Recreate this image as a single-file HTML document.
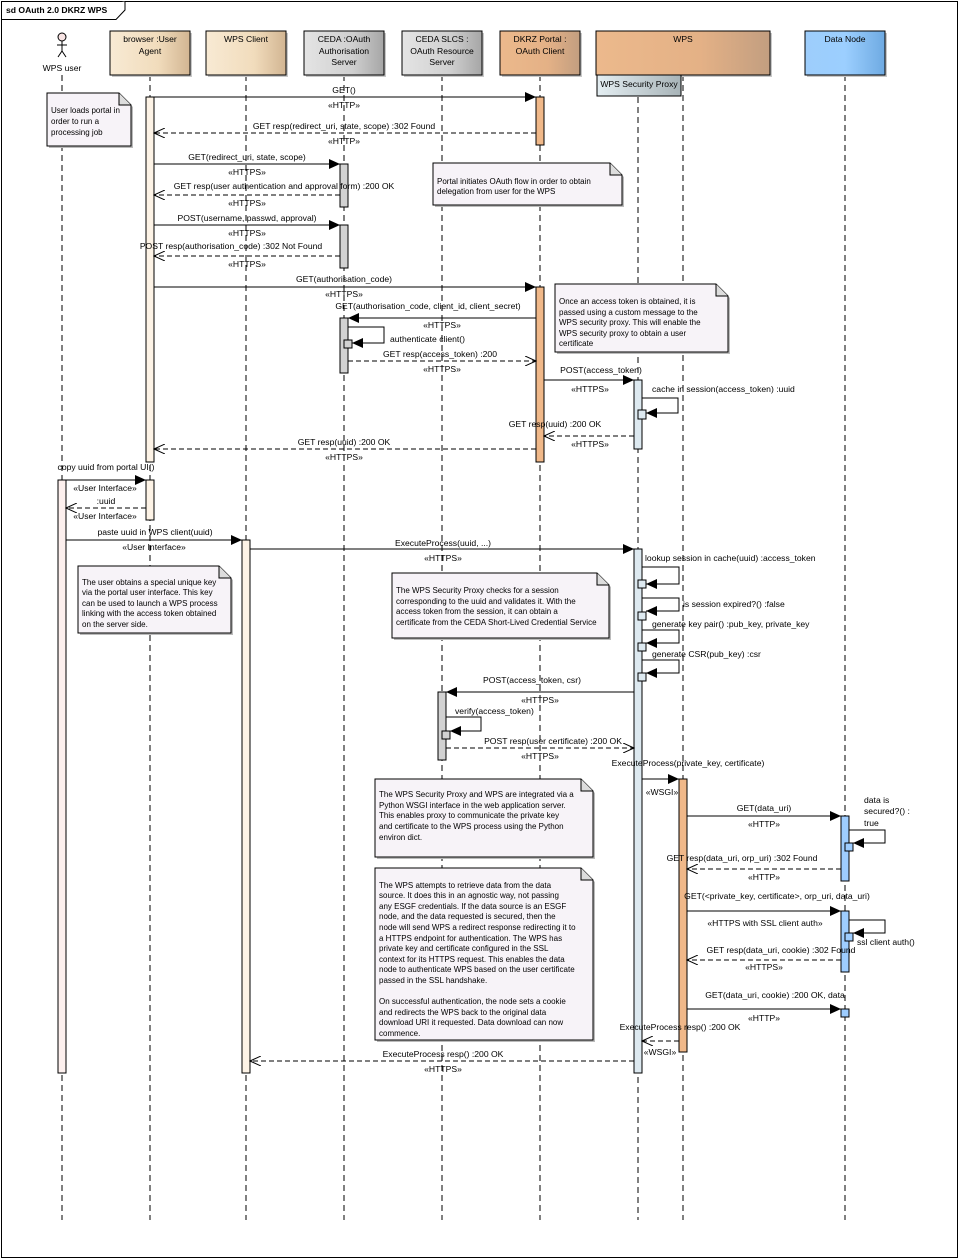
<!DOCTYPE html>
<html><head><meta charset="utf-8"><style>
html,body{margin:0;padding:0;background:#fff}
svg{display:block}
text{font-family:"Liberation Sans",Arial,sans-serif;font-size:8.6px;fill:#000}
.m{text-anchor:middle}
.ll{stroke:#000;stroke-width:1;stroke-dasharray:6,4;fill:none}
.s{stroke:#000;stroke-width:1;fill:none}
.d{stroke:#000;stroke-width:1;fill:none;stroke-dasharray:5,3}
.nt{font-size:8px}
</style></head><body>
<svg width="960" height="1260" viewBox="0 0 960 1260" xmlns="http://www.w3.org/2000/svg">
<defs>
<marker id="f" markerWidth="12" markerHeight="10" refX="11" refY="5" orient="auto" markerUnits="userSpaceOnUse"><path d="M0,0 L11,5 L0,10 z" fill="#000"/></marker>
<marker id="o" markerWidth="12" markerHeight="10" refX="11" refY="5" orient="auto" markerUnits="userSpaceOnUse"><path d="M0,0 L11,5 L0,10" fill="none" stroke="#000"/></marker>
<linearGradient id="gb" x1="0" x2="1"><stop offset="0" stop-color="#f8ead4"/><stop offset="0.6" stop-color="#f1dcbc"/><stop offset="1" stop-color="#d2b592"/></linearGradient>
<linearGradient id="gg" x1="0" x2="1"><stop offset="0" stop-color="#e4e4e4"/><stop offset="0.6" stop-color="#d0d0d0"/><stop offset="1" stop-color="#a6a6a6"/></linearGradient>
<linearGradient id="go" x1="0" x2="1"><stop offset="0" stop-color="#ecb98c"/><stop offset="0.6" stop-color="#e4b186"/><stop offset="1" stop-color="#c29e80"/></linearGradient>
<linearGradient id="gd" x1="0" x2="1"><stop offset="0" stop-color="#9dcdfb"/><stop offset="0.5" stop-color="#9ccfff"/><stop offset="1" stop-color="#6eaae2"/></linearGradient>
<linearGradient id="gp" x1="0" x2="1"><stop offset="0" stop-color="#e4eef2"/><stop offset="1" stop-color="#a8b4b8"/></linearGradient>
</defs>

<!-- frame -->
<rect x="1.5" y="1.5" width="956" height="1256" fill="none" stroke="#000"/>
<path d="M1.5,19.5 H116 L125,10 V1.5" fill="#fff" stroke="#000"/>
<text x="6" y="13" style="font-weight:bold;font-size:8.6px">sd OAuth 2.0 DKRZ WPS</text>

<!-- lifelines -->
<line class="ll" x1="62" y1="75" x2="62" y2="1220"/>
<line class="ll" x1="150" y1="75" x2="150" y2="1220"/>
<line class="ll" x1="246" y1="75" x2="246" y2="1220"/>
<line class="ll" x1="344" y1="75" x2="344" y2="1220"/>
<line class="ll" x1="442" y1="75" x2="442" y2="1220"/>
<line class="ll" x1="540" y1="75" x2="540" y2="1220"/>
<line class="ll" x1="638" y1="97" x2="638" y2="1220"/>
<line class="ll" x1="683" y1="75" x2="683" y2="1220"/>
<line class="ll" x1="845" y1="75" x2="845" y2="1220"/>

<!-- actor -->
<circle cx="62" cy="37" r="4" fill="#f8e4e4" stroke="#000"/>
<path class="s" d="M62,41 V51 M57,45 H67 M62,51 L58,57 M62,51 L66,57"/>
<text class="m" x="62" y="71">WPS user</text>

<!-- headers -->
<g stroke="#000">
<rect x="112" y="33" width="80" height="44" fill="#c8c8c8" stroke="none"/>
<rect x="110" y="31" width="80" height="44" fill="url(#gb)"/>
<rect x="208" y="33" width="80" height="44" fill="#c8c8c8" stroke="none"/>
<rect x="206" y="31" width="80" height="44" fill="url(#gb)"/>
<rect x="306" y="33" width="80" height="44" fill="#c8c8c8" stroke="none"/>
<rect x="304" y="31" width="80" height="44" fill="url(#gg)"/>
<rect x="404" y="33" width="80" height="44" fill="#c8c8c8" stroke="none"/>
<rect x="402" y="31" width="80" height="44" fill="url(#gg)"/>
<rect x="502" y="33" width="80" height="44" fill="#c8c8c8" stroke="none"/>
<rect x="500" y="31" width="80" height="44" fill="url(#go)"/>
<rect x="598" y="33" width="174" height="44" fill="#c8c8c8" stroke="none"/>
<rect x="596" y="31" width="174" height="44" fill="url(#go)"/>
<rect x="807" y="33" width="80" height="44" fill="#c8c8c8" stroke="none"/>
<rect x="805" y="31" width="80" height="44" fill="url(#gd)"/>
<rect x="597" y="75" width="84" height="21" fill="url(#gp)"/>
</g>
<text class="m" x="150" y="42">browser :User</text><text class="m" x="150" y="54">Agent</text>
<text class="m" x="246" y="42">WPS Client</text>
<text class="m" x="344" y="42">CEDA :OAuth</text><text class="m" x="344" y="54">Authorisation</text><text class="m" x="344" y="65">Server</text>
<text class="m" x="442" y="42">CEDA SLCS :</text><text class="m" x="442" y="54">OAuth Resource</text><text class="m" x="442" y="65">Server</text>
<text class="m" x="540" y="42">DKRZ Portal :</text><text class="m" x="540" y="54">OAuth Client</text>
<text class="m" x="683" y="42">WPS</text>
<text class="m" x="845" y="42">Data Node</text>
<text class="m" x="639" y="87">WPS Security Proxy</text>

<!-- activations -->
<g stroke="#000">
<rect x="146" y="97" width="8" height="365" fill="#fdf3e6"/>
<rect x="536" y="97" width="8" height="48" fill="#f0b889"/>
<rect x="340" y="164" width="8" height="43" fill="#d2d2d2"/>
<rect x="340" y="225" width="8" height="43" fill="#d2d2d2"/>
<rect x="536" y="287" width="8" height="175" fill="#f0b889"/>
<rect x="340" y="318" width="8" height="55" fill="#d2d2d2"/>
<rect x="344" y="340" width="8" height="8" fill="#d2d2d2"/>
<rect x="634" y="380" width="8" height="69" fill="#dde9f0"/>
<rect x="638" y="410" width="8" height="9" fill="#dde9f0"/>
<rect x="58" y="480" width="8" height="593" fill="#fdf0ee"/>
<rect x="146" y="480" width="8" height="40" fill="#fdf3e6"/>
<rect x="242" y="540" width="8" height="533" fill="#fdf3e6"/>
<rect x="634" y="549" width="8" height="524" fill="#dde9f0"/>
<rect x="638" y="580" width="8" height="8" fill="#dde9f0"/>
<rect x="638" y="612" width="8" height="8" fill="#dde9f0"/>
<rect x="638" y="643" width="8" height="8" fill="#dde9f0"/>
<rect x="638" y="673" width="8" height="8" fill="#dde9f0"/>
<rect x="438" y="692" width="8" height="68" fill="#d2d2d2"/>
<rect x="442" y="731" width="8" height="8" fill="#d2d2d2"/>
<rect x="679" y="779" width="8" height="273" fill="#f0b889"/>
<rect x="841" y="816" width="8" height="65" fill="#9ecdff"/>
<rect x="845" y="843" width="8" height="8" fill="#9ecdff"/>
<rect x="841" y="911" width="8" height="61" fill="#9ecdff"/>
<rect x="845" y="933" width="8" height="8" fill="#9ecdff"/>
<rect x="841" y="1009" width="8" height="8" fill="#9ecdff"/>
</g>

<!-- notes -->
<g stroke="#000" fill="#f7f3f8">
<path d="M49,95 H121 L133,107 V148 H49 Z" fill="#bbb" stroke="none"/>
<path d="M47,93 H119 L131,105 V146 H47 Z"/><path d="M119,93 V105 H131" fill="#ddd"/>
<path d="M435,165 H612 L624,177 V207 H435 Z" fill="#bbb" stroke="none"/>
<path d="M433,163 H610 L622,175 V205 H433 Z"/><path d="M610,163 V175 H622" fill="#ddd"/>
<path d="M557,286 H718 L730,298 V354 H557 Z" fill="#bbb" stroke="none"/>
<path d="M555,284 H716 L728,296 V352 H555 Z"/><path d="M716,284 V296 H728" fill="#ddd"/>
<path d="M80,568 H221 L233,580 V635 H80 Z" fill="#bbb" stroke="none"/>
<path d="M78,566 H219 L231,578 V633 H78 Z"/><path d="M219,566 V578 H231" fill="#ddd"/>
<path d="M394,575 H599 L611,587 V640 H394 Z" fill="#bbb" stroke="none"/>
<path d="M392,573 H597 L609,585 V638 H392 Z"/><path d="M597,573 V585 H609" fill="#ddd"/>
<path d="M377,781 H583 L595,793 V859 H377 Z" fill="#bbb" stroke="none"/>
<path d="M375,779 H581 L593,791 V857 H375 Z"/><path d="M581,779 V791 H593" fill="#ddd"/>
<path d="M377,870 H583 L595,882 V1042 H377 Z" fill="#bbb" stroke="none"/>
<path d="M375,868 H581 L593,880 V1040 H375 Z"/><path d="M581,868 V880 H593" fill="#ddd"/>
</g>
<g class="nt">
<text class="nt" x="51" y="113">User loads portal in</text><text class="nt" x="51" y="124">order to run a</text><text class="nt" x="51" y="135">processing job</text>
<text class="nt" x="437" y="184">Portal initiates OAuth flow in order to obtain</text><text class="nt" x="437" y="194">delegation from user for the WPS</text>
<text class="nt" x="559" y="304">Once an access token is obtained, it is</text><text class="nt" x="559" y="315">passed using a custom message to the</text><text class="nt" x="559" y="325">WPS security proxy.  This will enable the</text><text class="nt" x="559" y="336">WPS security proxy to obtain a user</text><text class="nt" x="559" y="346">certificate</text>
<text class="nt" x="82" y="585">The user obtains a special unique key</text><text class="nt" x="82" y="595">via the portal user interface.  This key</text><text class="nt" x="82" y="606">can be used to launch a WPS process</text><text class="nt" x="82" y="616">linking with the access token obtained</text><text class="nt" x="82" y="627">on the server side.</text>
<text class="nt" x="396" y="593">The WPS Security Proxy checks for a session</text><text class="nt" x="396" y="604">corresponding to the uuid and validates it. With the</text><text class="nt" x="396" y="614">access token from the session, it can obtain a</text><text class="nt" x="396" y="625">certificate from the CEDA Short-Lived Credential Service</text>
<text class="nt" x="379" y="797">The WPS Security Proxy and WPS are integrated via a</text><text class="nt" x="379" y="808">Python WSGI interface in the web application server.</text><text class="nt" x="379" y="818">This enables proxy to communicate the private key</text><text class="nt" x="379" y="829">and certificate to the WPS process using the Python</text><text class="nt" x="379" y="840">environ dict.</text>
<text class="nt" x="379" y="888">The WPS attempts to retrieve data from the data</text>
<text class="nt" x="379" y="898">source.  It does this in an agnostic way, not passing</text>
<text class="nt" x="379" y="909">any ESGF credentials.  If the data source is an ESGF</text>
<text class="nt" x="379" y="919">node, and the data requested is secured, then the</text>
<text class="nt" x="379" y="930">node will send WPS a redirect response redirecting it to</text>
<text class="nt" x="379" y="941">a HTTPS endpoint for authentication.  The WPS has</text>
<text class="nt" x="379" y="951">private key and certificate configured in the SSL</text>
<text class="nt" x="379" y="962">context for its HTTPS request.  This enables the data</text>
<text class="nt" x="379" y="972">node to authenticate WPS based on the user certificate</text>
<text class="nt" x="379" y="983">passed in the SSL handshake.</text>
<text class="nt" x="379" y="1004">On successful authentication, the node sets a cookie</text>
<text class="nt" x="379" y="1015">and redirects the WPS back to the original data</text>
<text class="nt" x="379" y="1025">download URI it requested.  Data download can now</text>
<text class="nt" x="379" y="1036">commence.</text>
</g>

<!-- messages -->
<line class="s" x1="154" y1="97" x2="536" y2="97" marker-end="url(#f)"/>
<text class="m" x="344" y="93">GET()</text><text class="m" x="344" y="108">«HTTP»</text>
<line class="d" x1="536" y1="133" x2="154" y2="133" marker-end="url(#o)"/>
<text class="m" x="344" y="129">GET resp(redirect_uri, state, scope) :302 Found</text><text class="m" x="344" y="144">«HTTP»</text>
<line class="s" x1="154" y1="164" x2="340" y2="164" marker-end="url(#f)"/>
<text class="m" x="247" y="160">GET(redirect_uri, state, scope)</text><text class="m" x="247" y="175">«HTTPS»</text>
<line class="d" x1="340" y1="195" x2="154" y2="195" marker-end="url(#o)"/>
<text class="m" x="284" y="189">GET resp(user authentication and approval form) :200 OK</text><text class="m" x="247" y="206">«HTTPS»</text>
<line class="s" x1="154" y1="225" x2="340" y2="225" marker-end="url(#f)"/>
<text class="m" x="247" y="221">POST(username, passwd, approval)</text><text class="m" x="247" y="236">«HTTPS»</text>
<line class="d" x1="340" y1="256" x2="154" y2="256" marker-end="url(#o)"/>
<text class="m" x="231" y="249">POST resp(authorisation_code) :302 Not Found</text><text class="m" x="247" y="267">«HTTPS»</text>
<line class="s" x1="154" y1="287" x2="536" y2="287" marker-end="url(#f)"/>
<text class="m" x="344" y="282">GET(authorisation_code)</text><text class="m" x="344" y="297">«HTTPS»</text>
<line class="s" x1="536" y1="318" x2="348" y2="318" marker-end="url(#f)"/>
<text class="m" x="428" y="309">GET(authorisation_code, client_id, client_secret)</text><text class="m" x="442" y="328">«HTTPS»</text>
<path class="s" d="M348,327 H384 V343 H352" marker-end="url(#f)"/>
<text x="390" y="342">authenticate client()</text>
<line class="d" x1="348" y1="361" x2="536" y2="361" marker-end="url(#o)"/>
<text class="m" x="440" y="357">GET resp(access_token) :200</text><text class="m" x="442" y="372">«HTTPS»</text>
<line class="s" x1="544" y1="380" x2="634" y2="380" marker-end="url(#f)"/>
<text class="m" x="601" y="373">POST(access_token)</text><text class="m" x="590" y="392">«HTTPS»</text>
<path class="s" d="M642,398 H678 V413 H646" marker-end="url(#f)"/>
<text x="652" y="392">cache in session(access_token) :uuid</text>
<line class="d" x1="634" y1="436" x2="544" y2="436" marker-end="url(#o)"/>
<text class="m" x="555" y="427">GET resp(uuid) :200 OK</text><text class="m" x="590" y="447">«HTTPS»</text>
<line class="d" x1="536" y1="449" x2="154" y2="449" marker-end="url(#o)"/>
<text class="m" x="344" y="445">GET resp(uuid) :200 OK</text><text class="m" x="344" y="460">«HTTPS»</text>
<line class="s" x1="66" y1="480" x2="146" y2="480" marker-end="url(#f)"/>
<text class="m" x="106" y="470">copy uuid from portal UI()</text><text class="m" x="105" y="491">«User Interface»</text>
<line class="d" x1="146" y1="508" x2="66" y2="508" marker-end="url(#o)"/>
<text class="m" x="106" y="504">:uuid</text><text class="m" x="105" y="519">«User Interface»</text>
<line class="s" x1="66" y1="540" x2="242" y2="540" marker-end="url(#f)"/>
<text class="m" x="155" y="535">paste uuid in WPS client(uuid)</text><text class="m" x="154" y="550">«User Interface»</text>
<line class="s" x1="250" y1="549" x2="634" y2="549" marker-end="url(#f)"/>
<text class="m" x="443" y="546">ExecuteProcess(uuid, ...)</text><text class="m" x="443" y="561">«HTTPS»</text>
<path class="s" d="M642,567 H679 V584 H646" marker-end="url(#f)"/>
<text x="645" y="561">lookup session in cache(uuid) :access_token</text>
<path class="s" d="M642,598 H679 V611 H646" marker-end="url(#f)"/>
<text x="683" y="607">is session expired?() :false</text>
<path class="s" d="M642,630 H679 V643 H646" marker-end="url(#f)"/>
<text x="652" y="627">generate key pair() :pub_key, private_key</text>
<path class="s" d="M642,660 H679 V673 H646" marker-end="url(#f)"/>
<text x="652" y="657">generate CSR(pub_key) :csr</text>
<line class="s" x1="634" y1="692" x2="446" y2="692" marker-end="url(#f)"/>
<text class="m" x="532" y="683">POST(access_token, csr)</text><text class="m" x="540" y="703">«HTTPS»</text>
<path class="s" d="M446,717 H481 V731 H450" marker-end="url(#f)"/>
<text x="455" y="714">verify(access_token)</text>
<line class="d" x1="446" y1="748" x2="634" y2="748" marker-end="url(#o)"/>
<text class="m" x="553" y="744">POST resp(user certificate) :200 OK</text><text class="m" x="540" y="759">«HTTPS»</text>
<line class="s" x1="642" y1="779" x2="679" y2="779" marker-end="url(#f)"/>
<text class="m" x="688" y="766">ExecuteProcess(private_key, certificate)</text><text class="m" x="662" y="795">«WSGI»</text>
<line class="s" x1="687" y1="816" x2="841" y2="816" marker-end="url(#f)"/>
<text class="m" x="764" y="811">GET(data_uri)</text><text class="m" x="764" y="827">«HTTP»</text>
<path class="s" d="M849,830 H885 V843 H853" marker-end="url(#f)"/>
<text x="864" y="803">data is</text><text x="864" y="814">secured?() :</text><text x="864" y="826">true</text>
<line class="d" x1="841" y1="869" x2="687" y2="869" marker-end="url(#o)"/>
<text class="m" x="742" y="861">GET resp(data_uri, orp_uri) :302 Found</text><text class="m" x="764" y="880">«HTTP»</text>
<line class="s" x1="687" y1="911" x2="841" y2="911" marker-end="url(#f)"/>
<text class="m" x="777" y="899">GET(&lt;private_key, certificate&gt;, orp_uri, data_uri)</text><text class="m" x="765" y="926">«HTTPS with SSL client auth»</text>
<path class="s" d="M849,920 H885 V933 H853" marker-end="url(#f)"/>
<text x="857" y="945">ssl client auth()</text>
<line class="d" x1="841" y1="960" x2="687" y2="960" marker-end="url(#o)"/>
<text class="m" x="781" y="953">GET resp(data_uri, cookie) :302 Found</text><text class="m" x="764" y="970">«HTTPS»</text>
<line class="s" x1="687" y1="1009" x2="841" y2="1009" marker-end="url(#f)"/>
<text class="m" x="775" y="998">GET(data_uri, cookie) :200 OK, data</text><text class="m" x="764" y="1021">«HTTP»</text>
<line class="d" x1="679" y1="1041" x2="642" y2="1041" marker-end="url(#o)"/>
<text class="m" x="680" y="1030">ExecuteProcess resp() :200 OK</text><text class="m" x="660" y="1055">«WSGI»</text>
<line class="d" x1="634" y1="1061" x2="250" y2="1061" marker-end="url(#o)"/>
<text class="m" x="443" y="1057">ExecuteProcess resp() :200 OK</text><text class="m" x="443" y="1072">«HTTPS»</text>
</svg>
</body></html>
